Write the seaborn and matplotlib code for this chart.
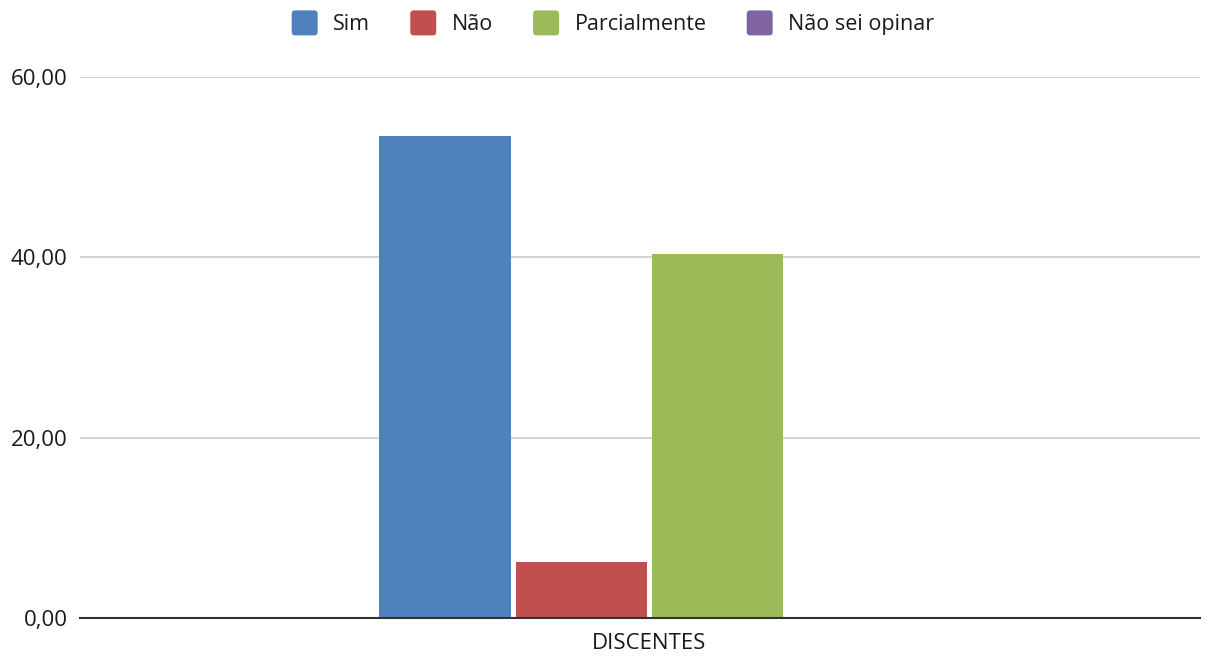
import matplotlib
matplotlib.use("Agg")
import matplotlib.pyplot as plt
import seaborn as sns
import pandas as pd
from matplotlib.ticker import FuncFormatter
from matplotlib.patches import FancyBboxPatch, Patch
from matplotlib.legend_handler import HandlerPatch

# Survey responses (percent) for the student group
categories = ["DISCENTES"]
answers = ["Sim", "Não", "Parcialmente", "Não sei opinar"]
values = [53.5, 6.2, 40.4, 0.0]
colors = ["#4F81BD", "#C0504D", "#9BBB59", "#8064A2"]
y_ticks = [0, 20, 40, 60]

df = pd.DataFrame({
    "grupo": categories * len(answers),
    "resposta": answers,
    "valor": values,
})

sns.set_theme(style="white")
plt.rcParams["font.family"] = ["Open Sans", "DejaVu Sans"]

fig = plt.figure(figsize=(12.16, 6.57), dpi=100)
ax = fig.add_axes([80 / 1216, 39 / 657, 1120 / 1216, 541 / 657])

sns.barplot(data=df, x="grupo", y="valor", hue="resposta", hue_order=answers,
            palette=colors, width=0.487, gap=0.035, ax=ax, legend=False,
            saturation=1, linewidth=0)

ax.set_ylim(0, 60)
ax.set_xlim(-0.5085, 0.4915)
ax.set_yticks(y_ticks)
ax.yaxis.set_major_formatter(FuncFormatter(lambda v, p: f"{v:.2f}".replace(".", ",")))
ax.grid(axis="y", color="#cccccc", linewidth=1.2)
ax.set_axisbelow(True)
for s in ["top", "right", "left"]:
    ax.spines[s].set_visible(False)
ax.spines["bottom"].set_color("#333333")
ax.spines["bottom"].set_linewidth(1.5)
ax.spines["bottom"].set_zorder(5)
ax.tick_params(axis="both", length=0, labelsize=16, colors="#1a1a1a")
ax.tick_params(axis="y", pad=9)
ax.tick_params(axis="x", pad=11)
ax.set_xlabel("")
ax.set_ylabel("")

# legend swatches: rounded squares, sized in points
SW_W, SW_H = 18.7, 18.0


def rounded_square(legend, orig_handle, xdescent, ydescent, width, height, fontsize):
    x0 = -xdescent + (width - SW_W) / 2
    y0 = -ydescent + height / 2 - SW_H / 2
    return FancyBboxPatch((x0, y0), SW_W, SW_H,
                          boxstyle="round,pad=0,rounding_size=2.5", linewidth=0)


handles = [Patch(facecolor=c, edgecolor="none") for c in colors]
fig.legend(handles, answers, loc="center", bbox_to_anchor=(613 / 1216, 1 - 23.5 / 657),
           ncol=4, frameon=False, fontsize=15.5, handlelength=1.21, handleheight=1.2,
           columnspacing=1.86, handletextpad=0.72, labelcolor="#1a1a1a",
           handler_map={Patch: HandlerPatch(patch_func=rounded_square)})

fig.savefig("out.png", dpi=100)
